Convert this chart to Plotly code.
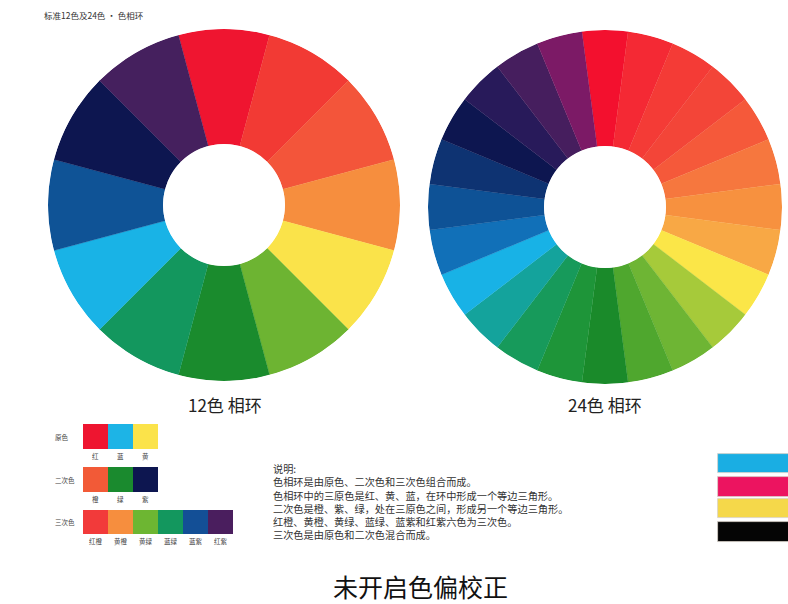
import plotly.graph_objects as go

# ---------------- data ----------------
wheel12_names = ["红", "红橙", "橙红", "橙", "黄", "黄绿", "绿", "蓝绿", "蓝", "蓝紫", "紫", "红紫"]
wheel12_colors = ["#EF1530", "#F23A34", "#F3553A", "#F68E3E", "#FAE34A", "#6DB432",
                  "#1A8B2D", "#13975E", "#19B3E6", "#0F5396", "#0D1650", "#45205E"]
wheel12_values = [1] * 12

wheel24_names = ["红", "红1", "红2", "红橙", "橙红", "橙1", "橙", "黄橙", "黄", "黄绿1", "黄绿",
                 "绿1", "绿", "绿2", "蓝绿1", "蓝绿", "蓝", "蓝1", "蓝2", "蓝紫1", "蓝紫",
                 "紫", "紫1", "红紫"]
wheel24_colors = ["#F3102E", "#F42934", "#F43B36", "#F34538", "#F5593A", "#F6773E",
                  "#F7913F", "#F8A845", "#FBE648", "#A6CA3A", "#6EB534", "#4FA72E",
                  "#1A8A2A", "#1E9539", "#179A5B", "#14A39C", "#18B2E6", "#1170B8",
                  "#0E5296", "#0E3372", "#0D1650", "#281A5A", "#461E5E", "#7C1A66"]
wheel24_values = [1] * 24

primary_names = ["红", "蓝", "黄"]
primary_colors = ["#EE1530", "#1DB4E6", "#FBE34A"]
secondary_names = ["橙", "绿", "紫"]
secondary_colors = ["#F25A37", "#1A8A2E", "#0D1650"]
tertiary_names = ["红橙", "黄橙", "黄绿", "蓝绿", "蓝紫", "红紫"]
tertiary_colors = ["#F23A3A", "#F68E3E", "#6DB632", "#13975E", "#134F96", "#4A1E5E"]

cmyk_names = ["C", "M", "Y", "K"]
cmyk_colors = ["#1AAEE3", "#EC1460", "#F5D84A", "#050505"]

title_text = "标准12色及24色 · 色相环"
wheel12_label = "12色 相环"
wheel24_label = "24色 相环"
group_labels = ["原色", "二次色", "三次色"]
note_lines = [
    "说明:",
    "色相环是由原色、二次色和三次色组合而成。",
    "色相环中的三原色是红、黄、蓝，在环中形成一个等边三角形。",
    "二次色是橙、紫、绿，处在三原色之间，形成另一个等边三角形。",
    "红橙、黄橙、黄绿、蓝绿、蓝紫和红紫六色为三次色。",
    "三次色是由原色和二次色混合而成。",
]
caption = "未开启色偏校正"

W, H = 788, 604
FONT = "Noto Sans CJK SC"

fig = go.Figure()

# ---------------- colour wheels ----------------
def wheel(names, colors, values, subplot):
    n = len(names)
    step = 360 / n
    fig.add_trace(go.Barpolar(
        r=values,
        theta=[i * step for i in range(n)],
        width=[step] * n,
        marker=dict(color=colors, line=dict(width=0.3, color=colors)),
        text=names, hoverinfo="text",
        subplot=subplot, showlegend=False,
    ))

wheel(wheel12_names, wheel12_colors, wheel12_values, "polar")
wheel(wheel24_names, wheel24_colors, wheel24_values, "polar2")

def polar_layout(cx, cy, r, hole_r):
    return dict(
        domain=dict(x=[(cx - r) / W, (cx + r) / W], y=[1 - (cy + r) / H, 1 - (cy - r) / H]),
        hole=hole_r / r,
        bgcolor="rgba(0,0,0,0)",
        radialaxis=dict(range=[0, 1], visible=False, showgrid=False),
        angularaxis=dict(rotation=90, direction="clockwise", visible=False,
                         showgrid=False, showline=False, ticks=""),
        barmode="overlay",
        bargap=0,
    )

# ---------------- swatches & CMYK bars in a pixel-space axis ----------------
sw_w = 25
sw_x0 = 83
rows = [
    (primary_names, primary_colors, 424, 25),
    (secondary_names, secondary_colors, 467, 25),
    (tertiary_names, tertiary_colors, 510, 24),
]
annotations = []
for gi, (names, colors, top, h) in enumerate(rows):
    xs = [sw_x0 + sw_w * i + sw_w / 2 for i in range(len(names))]
    fig.add_trace(go.Bar(
        x=xs, y=[h] * len(names), base=[top] * len(names), width=[sw_w] * len(names),
        marker=dict(color=colors, line=dict(width=0)),
        text=names, hoverinfo="text", textposition="none",
        xaxis="x", yaxis="y", showlegend=False,
    ))
    for xv, nm in zip(xs, names):
        annotations.append(dict(x=xv, y=top + h + 7, text=nm, xref="x", yref="y",
                                showarrow=False, font=dict(family=FONT, size=6.5, color="#444")))
    annotations.append(dict(x=53, y=top + h / 2, text=group_labels[gi], xref="x", yref="y",
                            showarrow=False, xanchor="left",
                            font=dict(family=FONT, size=6.5, color="#444")))

cmyk_top = [454, 477, 499, 522]
cmyk_h = [19, 20, 19, 20]
fig.add_trace(go.Bar(
    y=[t + h / 2 for t, h in zip(cmyk_top, cmyk_h)], x=[72] * 4, base=[718] * 4,
    width=cmyk_h, orientation="h",
    marker=dict(color=cmyk_colors, line=dict(width=0.8, color="#d8d0c8")),
    text=cmyk_names, hoverinfo="text", textposition="none",
    xaxis="x", yaxis="y", showlegend=False,
))

# ---------------- text ----------------
annotations.append(dict(x=42, y=15, text=title_text, xref="x", yref="y", xanchor="left",
                        showarrow=False, font=dict(family=FONT, size=8.5, color="#333")))
annotations.append(dict(x=225, y=404, text=wheel12_label, xref="x", yref="y",
                        showarrow=False, font=dict(family=FONT, size=17, color="#222")))
annotations.append(dict(x=605, y=404, text=wheel24_label, xref="x", yref="y",
                        showarrow=False, font=dict(family=FONT, size=17, color="#222")))
annotations.append(dict(x=271, y=459, text="<br>".join(note_lines), xref="x", yref="y",
                        xanchor="left", yanchor="top", align="left", showarrow=False,
                        font=dict(family=FONT, size=10.2, color="#333")))
annotations.append(dict(x=420, y=586, text=caption, xref="x", yref="y",
                        showarrow=False, font=dict(family=FONT, size=25, color="#111")))

fig.update_layout(
    width=W, height=H,
    margin=dict(l=0, r=0, t=0, b=0),
    paper_bgcolor="white", plot_bgcolor="rgba(0,0,0,0)",
    polar=polar_layout(224, 205, 176, 61),
    polar2=polar_layout(605, 207, 177, 61),
    xaxis=dict(range=[0, W], domain=[0, 1], visible=False, fixedrange=True),
    yaxis=dict(range=[H, 0], domain=[0, 1], visible=False, fixedrange=True),
    barmode="overlay", bargap=0,
    annotations=annotations,
    showlegend=False,
)

fig.write_html("out.html", config={"displayModeBar": False},
               post_script="document.body.style.margin='0';document.body.style.overflow='hidden';")
